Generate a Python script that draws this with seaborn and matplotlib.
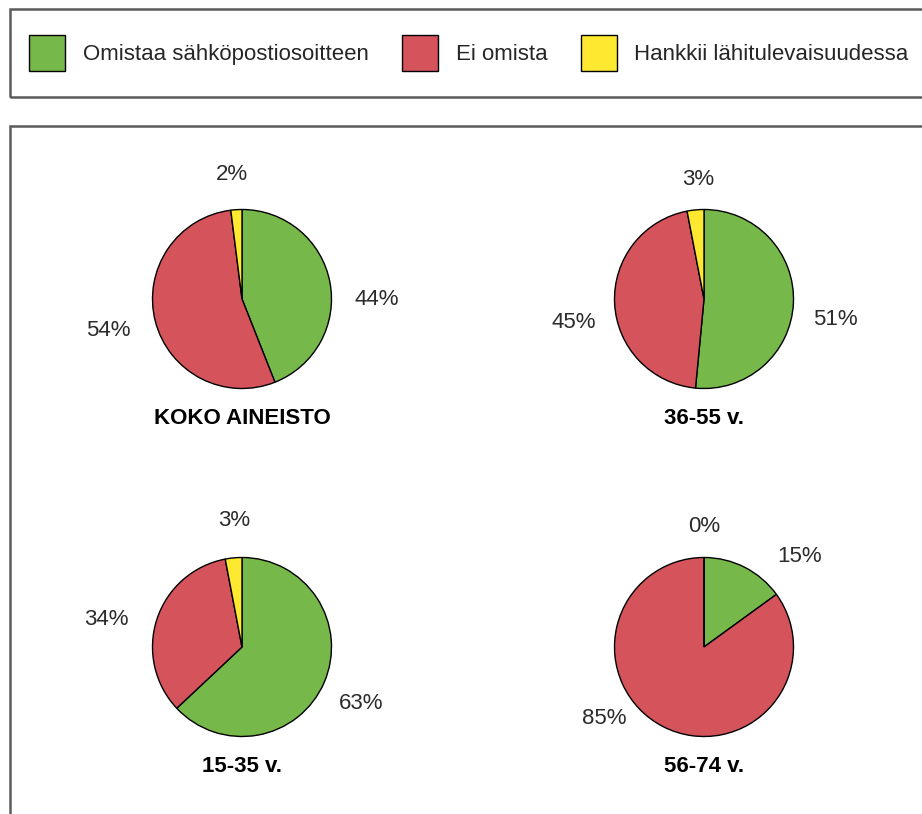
import matplotlib
matplotlib.use("Agg")
import matplotlib.pyplot as plt
from matplotlib.patches import Patch, Rectangle
import seaborn as sns

# sähköpostiosoitteen omistus, % vastaajista
groups = ["KOKO AINEISTO", "36-55 v.", "15-35 v.", "56-74 v."]
categories = ["Omistaa sähköpostiosoitteen", "Ei omista", "Hankkii lähitulevaisuudessa"]
omistaa = [44, 51, 63, 15]
ei_omista = [54, 45, 34, 85]
hankkii = [2, 3, 3, 0]

colors = ["#77B84A", "#D5535B", "#FFE830"]

# layout in pixels (figure is 922 x 814)
W, H = 922, 814
centers = [(242, 299), (704, 299), (242, 647), (704, 647)]
R = 89.5
# label spots in radius units, (dx, dy) with dy upwards; order: omistaa, ei, hankkii
label_pos = [
    [(1.51, -0.01), (-1.49, -0.35), (-0.11, 1.39)],
    [(1.47, -0.23), (-1.45, -0.26), (-0.06, 1.33)],
    [(1.33, -0.63), (-1.51, 0.31), (-0.09, 1.41)],
    [(1.07, 1.01), (-1.12, -0.80), (0.0, 1.35)],
]
title_dy = -1.34

sns.set_theme(style="white")
plt.rcParams["font.family"] = ["Liberation Sans", "DejaVu Sans"]

fig = plt.figure(figsize=(W / 100, H / 100), dpi=100)
ax = fig.add_axes([0, 0, 1, 1])

for i, name in enumerate(groups):
    cx, cy = centers[i]
    cy = H - cy
    vals = [omistaa[i], ei_omista[i], hankkii[i]]
    ax.pie(vals, colors=colors, startangle=90, counterclock=False,
           center=(cx, cy), radius=R,
           wedgeprops=dict(edgecolor="black", linewidth=1.0))
    for v, (dx, dy) in zip(vals, label_pos[i]):
        ax.text(cx + dx * R, cy + dy * R, f"{v}%", ha="center", va="center",
                fontsize=16, color="#2b2b2b")
    ax.text(cx, cy + title_dy * R, name, ha="center", va="center",
            fontsize=16, fontweight="bold", color="black")

# frames: legend box and chart box, both run off the right/bottom edge
ax.add_patch(Rectangle((10, H - 97), 930, 88, fill=False,
                       edgecolor="#5a5a5a", linewidth=1.8))
ax.add_patch(Rectangle((10, -20), 930, H - 126 + 20, fill=False,
                       edgecolor="#5a5a5a", linewidth=1.8))

handles = [Patch(facecolor=c, edgecolor="black", linewidth=1.0) for c in colors]
ax.legend(handles, categories, loc="center left",
          bbox_to_anchor=(29, H - 53), bbox_transform=ax.transData,
          ncol=3, frameon=False, fontsize=16,
          handlelength=1.62, handleheight=2.1, handletextpad=0.8,
          columnspacing=1.5, borderpad=0, borderaxespad=0)

ax.set_xlim(0, W)
ax.set_ylim(0, H)
ax.set_aspect("equal")
ax.axis("off")

fig.savefig("out.png", dpi=100)
